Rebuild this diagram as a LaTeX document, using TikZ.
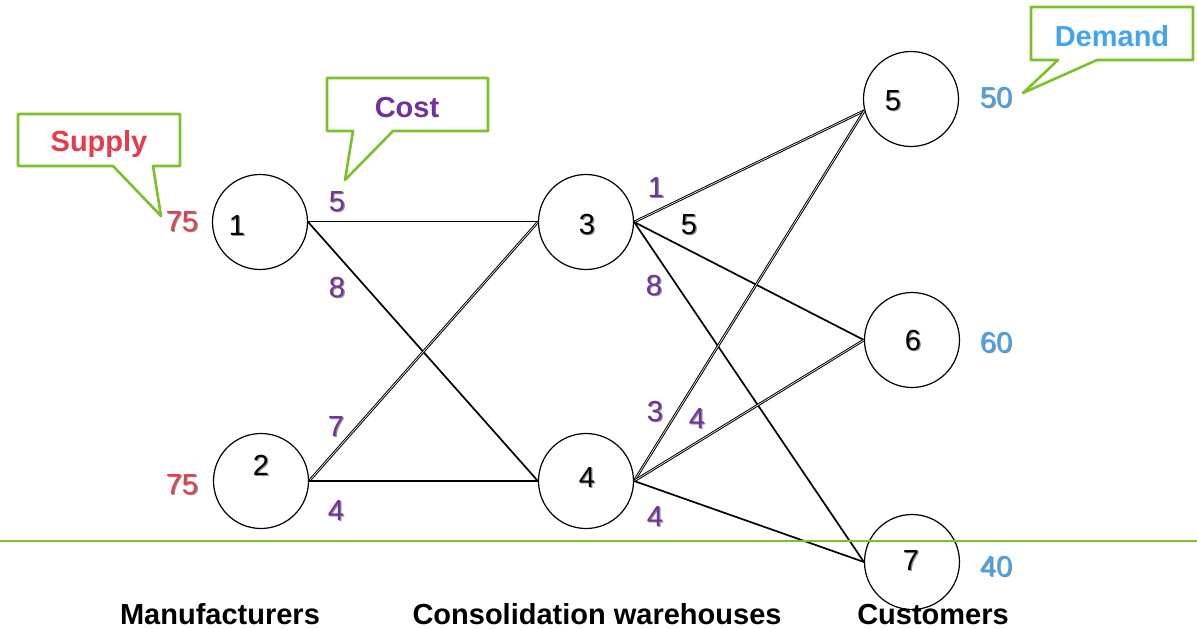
\documentclass[tikz,border=0pt]{standalone}
\usepackage{fontspec}
\setmainfont{Liberation Sans}
\definecolor{supplyred}{RGB}{232,58,74}
\definecolor{costpurple}{RGB}{112,48,160}
\definecolor{demandblue}{RGB}{66,164,240}
\definecolor{calloutgreen}{RGB}{124,192,42}
% digits with a soft dark drop shadow
\newcommand{\shade}[1]{\rlap{\raisebox{-1.2pt}{\hspace{1.2pt}\textcolor{black!45}{#1}}}#1}
\tikzset{
  site/.style={circle, draw=black, line width=1.2pt, minimum size=95pt, inner sep=0pt},
  num/.style={font=\fontsize{29}{32}\selectfont, inner sep=0pt, anchor=center},
  cost/.style={num, text=costpurple},
  supply/.style={num, text=supplyred},
  demand/.style={num, text=demandblue},
  tag/.style={font=\fontsize{29}{32}\selectfont\bfseries, inner sep=0pt, anchor=base},
  callout/.style={draw=calloutgreen, fill=white, line width=2.6pt, line join=round},
  solidarc/.style={draw=black, line width=1.7pt},
  hollowarc/.style={draw=black, line width=1pt, double=white, double distance=0.6pt}
}
\begin{document}
\begin{tikzpicture}[x=1pt,y=-1pt]
\useasboundingbox (0,0) rectangle (1197,629);

% sites
\node[site] (n1) at (260,222) {};
\node[site] (n2) at (261,481) {};
\node[site] (n3) at (586,222) {};
\node[site] (n4) at (586,481) {};
\node[site] (n5) at (911,99) {};
\node[site] (n6) at (912,340) {};
\node[site] (n7) at (912,562) {};

% site numbers
\node[num] (t1) at (237,226) {\shade{1}};
\node[num] (t2) at (261,466) {\shade{2}};
\node[num] (t3) at (587,225) {\shade{3}};
\node[num] (t4) at (587,478) {\shade{4}};
\node[num] (t5) at (893,101) {\shade{5}};
\node[num] (t6) at (913,341) {\shade{6}};
\node[num] (t7) at (911,561) {\shade{7}};

% shipping lanes
\draw[hollowarc] (n1.east) -- (n3.west);
\draw[solidarc]  (n1.east) -- (n4.west);
\draw[hollowarc] (n2.east) -- (n3.west);
\draw[solidarc]  (n2.east) -- (n4.west);
\draw[hollowarc] (n3.east) -- (n5.194);
\draw[solidarc]  (n3.east) -- (n6.west);
\draw[solidarc]  (n3.east) -- (n7.west);
\draw[hollowarc] (n4.east) -- (n5.194);
\draw[hollowarc] (n4.east) -- (n6.west);
\draw[solidarc]  (n4.east) -- (n7.west);

% unit costs
\node[cost] (c13) at (337,202) {\shade{5}};
\node[cost] (c14) at (337,288) {\shade{8}};
\node[cost] (c23) at (336,427) {\shade{7}};
\node[cost] (c24) at (336,511) {\shade{4}};
\node[cost] (c35) at (656,188) {\shade{1}};
\node[num]  (c36) at (689,225) {\shade{5}};
\node[cost] (c37) at (654,286) {\shade{8}};
\node[cost] (c45) at (655,412) {\shade{3}};
\node[cost] (c46) at (697,419) {\shade{4}};
\node[cost] (c47) at (655,517) {\shade{4}};

% supply and demand
\node[supply] (s1) at (182,222) {\shade{75}};
\node[supply] (s2) at (182,485) {\shade{75}};
\node[demand] (d5) at (996,98) {\shade{50}};
\node[demand] (d6) at (996,343) {\shade{60}};
\node[demand] (d7) at (996,567) {\shade{40}};

% callouts
\draw[callout] (18,114) -- (180,114) -- (180,166) -- (153,166) -- (161,216)
  -- (113,166) -- (18,166) -- cycle;
\node[tag, text=supplyred] (supplytag) at (99,151) {Supply};

\draw[callout] (327,78) -- (488,78) -- (488,131) -- (393,131) -- (345,180)
  -- (353,131) -- (327,131) -- cycle;
\node[tag, text=costpurple] (costtag) at (407,117) {Cost};

\draw[callout] (1031,7) -- (1193,7) -- (1193,60) -- (1097,60) -- (1023,93)
  -- (1058,60) -- (1031,60) -- cycle;
\node[tag, text=demandblue] (demandtag) at (1112,46) {Demand};

% divider and stage names
\draw[calloutgreen, line width=2pt] (0,541) -- (1197,541);
\node[tag] (stage1) at (220,624) {Manufacturers};
\node[tag] (stage2) at (597,624) {Consolidation warehouses};
\node[tag] (stage3) at (933,624) {Customers};
\end{tikzpicture}
\end{document}
